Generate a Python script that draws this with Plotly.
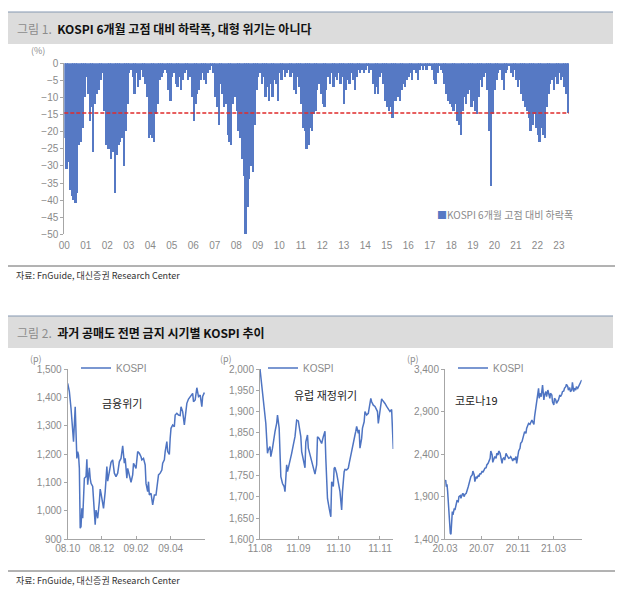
import plotly.graph_objects as go

# 그림 1. KOSPI 6개월 고점 대비 하락폭 (%) - monthly readings, one row per axis year
drawdown = [
    -22, -31, -29, -37, -39, -40, -41, -38, -24, -23, -19, -10,   # 00
    -4, -9, -17, -13, -26, -12, -9, -8, -5, -3, -14, -24,         # 01
    -25, -25, -28, -26, -38, -27, -24, -23, -22, -30, -20, -12,   # 02
    -3, -2, -4, -9, -3, -7, -5, -2, -4, -6, -10, -22,             # 03
    -21, -22, -23, -15, -12, -5, -4, -3, -2, -3, -8, -11,         # 04
    -4, -3, -6, -7, -4, -8, -5, -3, -2, -5, -4, -10,              # 05
    -17, -12, -9, -8, -5, -3, -5, -6, -3, -2, -1, -3,             # 06
    -10, -13, -18, -6, -9, -13, -12, -21, -23, -24, -12, -10,     # 07
    -14, -20, -22, -28, -33, -50, -42, -34, -30, -32, -18, -8,    # 08
    -4, -3, -6, -4, -10, -7, -11, -6, -10, -5, -6, -11,           # 09
    -3, -5, -2, -4, -3, -2, -4, -3, -8, -9, -4, -7,               # 10
    -12, -19, -20, -25, -24, -19, -20, -15, -14, -8, -6, -9,      # 11
    -12, -13, -8, -4, -6, -3, -7, -4, -5, -3, -6, -4,             # 12
    -12, -8, -5, -6, -3, -5, -8, -4, -2, -3, -2, -3,              # 13
    -2, -1, -3, -2, -6, -9, -7, -9, -4, -3, -6, -11,              # 14
    -13, -14, -13, -16, -11, -11, -10, -11, -8, -6, -7, -5,       # 15
    -4, -3, -5, -2, -3, -5, -2, -1, -2, -1, -2, -1,               # 16
    -1, -2, -5, -6, -3, -1, -2, -3, -6, -9, -11, -12,             # 17
    -13, -14, -12, -17, -18, -21, -14, -10, -12, -9, -8, -13,     # 18
    -11, -14, -15, -10, -5, -7, -4, -3, -8, -20, -36, -15,        # 19
    -8, -5, -3, -2, -5, -8, -3, -2, -1, -3, -4, -2,               # 20
    -5, -7, -5, -9, -11, -13, -14, -16, -20, -18, -15, -19,       # 21
    -21, -23, -19, -21, -22, -13, -9, -6, -5, -8, -4, -6,         # 22
    -3, -5, -4, -7, -9, -14.5,                                    # 23
]
year_labels = ["%02d" % y for y in range(24)]
threshold = -14.5

# 그림 2. KOSPI during past short-selling bans (x = trading-day position)
a_t = [0, 2, 4, 6, 7, 9, 10, 11, 12, 13, 14, 15, 16, 17, 18, 19, 20, 22, 23, 24,
       26, 27, 28, 30, 31, 33, 34, 36, 38, 39, 40, 42, 43, 45, 46, 47, 48, 50, 52, 54,
       56, 58, 60, 62, 64, 66, 68, 69, 71, 72, 74, 76, 78, 79, 81, 82, 84, 86, 88, 89,
       91, 93, 94, 96, 97, 98, 100, 101, 102, 104, 106, 107, 109, 111, 113, 114, 116, 117, 119, 120,
       122, 123, 124, 126, 128, 129, 131, 133, 135, 136, 138, 140, 142, 143, 145, 148, 150, 151, 153, 155,
       157, 159, 161, 162, 164]
a_kospi = [1449, 1420, 1361, 1297, 1244, 1367, 1268, 1185, 1209, 1197, 1150, 939, 945, 1009, 974, 1092, 1115, 1121, 1182, 1092,
           1152, 1115, 1097, 1086, 1033, 951, 1003, 974, 1033, 1077, 1062, 1033, 1009, 1068, 1103, 1156, 1105, 1144, 1171, 1180,
           1133, 1121, 1133, 1174, 1185, 1229, 1168, 1185, 1115, 1150, 1127, 1101, 1127, 1168, 1156, 1150, 1209, 1203, 1191, 1180,
           1185, 1162, 1097, 1068, 1103, 1056, 1062, 1044, 1021, 1056, 1056, 1080, 1127, 1133, 1144, 1168, 1180, 1209, 1244, 1209,
           1199, 1256, 1291, 1303, 1297, 1338, 1344, 1338, 1336, 1367, 1350, 1303, 1361, 1379, 1394, 1408, 1414, 1385, 1391, 1434,
           1403, 1408, 1367, 1403, 1417]
a_ticks = [0, 40.8, 82, 123.6]
a_ticktext = ["08.10", "08.12", "09.02", "09.04"]

b_t = [0, 3, 5, 7, 9, 10, 12, 13, 15, 16, 18, 20, 21, 23, 25, 27, 29, 30, 32, 33,
       34, 36, 38, 40, 42, 44, 46, 47, 49, 50, 52, 54, 55, 57, 58, 60, 62, 64, 66, 68,
       69, 71, 72, 74, 76, 78, 79, 81, 83, 85, 86, 88, 89, 90, 92, 94, 96, 98, 99, 101,
       102, 104, 106, 107, 109, 110, 112, 114, 115, 116, 118, 119, 120, 122, 123, 125, 126, 128, 130, 131,
       133, 134, 136, 138, 139, 141, 142, 144, 146, 147, 149, 150, 152, 154, 156, 158, 160]
b_kospi = [2000, 1943, 1912, 1872, 1802, 1810, 1818, 1794, 1814, 1829, 1853, 1872, 1892, 1861, 1747, 1731, 1724, 1712, 1775, 1759,
           1767, 1782, 1802, 1822, 1841, 1880, 1878, 1865, 1841, 1806, 1786, 1768, 1829, 1845, 1814, 1798, 1782, 1768, 1753, 1775,
           1841, 1837, 1833, 1825, 1841, 1854, 1790, 1696, 1673, 1653, 1735, 1724, 1767, 1769, 1755, 1735, 1712, 1669, 1712, 1759,
           1764, 1763, 1767, 1778, 1798, 1814, 1829, 1845, 1854, 1865, 1849, 1857, 1814, 1837, 1861, 1876, 1900, 1892, 1896, 1912,
           1931, 1923, 1915, 1912, 1908, 1900, 1872, 1908, 1930, 1927, 1923, 1919, 1912, 1905, 1900, 1905, 1812]
b_ticks = [0, 46, 94, 144]
b_ticktext = ["11.08", "11.09", "11.10", "11.11"]

c_t = [0, 1, 2, 3, 4, 5, 7, 8, 9, 10, 11, 12, 14, 15, 17, 18, 20, 21, 23, 24,
       26, 27, 29, 30, 32, 33, 35, 36, 38, 39, 41, 42, 44, 45, 47, 48, 50, 51, 53, 54,
       56, 57, 59, 60, 62, 63, 65, 66, 68, 69, 71, 72, 74, 75, 77, 78, 80, 81, 83, 84,
       86, 87, 89, 90, 92, 93, 95, 96, 98, 99, 101, 102, 104, 105, 107, 108, 110, 111, 113, 114,
       116, 117, 119, 120, 122, 123, 125, 126, 128, 129, 131, 132, 134, 135, 137, 138, 140, 141, 142, 143,
       145, 146, 147, 149, 150, 152, 153, 155, 156, 158, 159, 161, 162, 164, 165, 167, 168, 170, 171, 173,
       174, 176, 177, 179, 180, 182, 183, 185, 186, 188, 189, 191, 192, 194, 195, 197, 198, 200, 201, 203,
       204, 206]
c_kospi = [2077, 2097, 2018, 2046, 1960, 1803, 1647, 1470, 1459, 1647, 1725, 1686, 1764, 1744, 1823, 1850, 1842, 1901, 1913, 1881,
           1928, 1940, 1901, 1928, 1940, 1960, 2018, 2046, 2097, 2136, 2155, 2202, 2155, 2077, 2136, 2116, 2147, 2136, 2175, 2163,
           2202, 2187, 2214, 2234, 2241, 2273, 2292, 2320, 2351, 2437, 2390, 2304, 2351, 2371, 2351, 2410, 2390, 2437, 2410, 2351,
           2292, 2343, 2359, 2331, 2410, 2390, 2371, 2351, 2359, 2371, 2343, 2320, 2351, 2331, 2371, 2292, 2390, 2437, 2468, 2527,
           2547, 2586, 2625, 2664, 2645, 2703, 2742, 2762, 2750, 2762, 2801, 2781, 2750, 2840, 2938, 2997, 3095, 3173, 3056, 3114,
           3075, 3173, 3212, 3036, 3095, 3134, 3075, 3153, 3114, 3056, 3114, 3095, 3016, 2977, 3056, 3036, 2997, 3016, 3036, 3095,
           3075, 3103, 3134, 3142, 3173, 3193, 3220, 3193, 3153, 3181, 3134, 3153, 3243, 3134, 3173, 3153, 3193, 3173, 3193, 3212,
           3232, 3271]
c_ticks = [0, 55, 110, 163.5]
c_ticktext = ["20.03", "20.07", "20.11", "21.03"]

W, H = 622, 596
BAR = "#5679C4"
LINE = "#4E74C2"
GREY = "#8a8a8a"
AXIS = "#a6a6a6"
KR = "Noto Sans CJK KR"
NUM = "Liberation Sans"


def px(x):
    return x / W


def py(y):
    return 1 - y / H


fig = go.Figure()

fig.add_trace(go.Bar(
    x=[i / 12 for i in range(len(drawdown))], y=drawdown,
    width=1 / 12, offset=0,
    marker=dict(color=BAR, line=dict(width=0)),
    name="KOSPI 6개월 고점 대비 하락폭", showlegend=False,
    xaxis="x", yaxis="y",
))
fig.add_hline(y=threshold, line=dict(color="#E02B2B", width=1.5, dash="4px,2px"))

fig.add_trace(go.Scatter(x=a_t, y=a_kospi, mode="lines", name="KOSPI",
                         line=dict(color=LINE, width=1.5), xaxis="x2", yaxis="y2", legend="legend"))
fig.add_trace(go.Scatter(x=b_t, y=b_kospi, mode="lines", name="KOSPI",
                         line=dict(color=LINE, width=1.5), xaxis="x3", yaxis="y3", legend="legend2"))
fig.add_trace(go.Scatter(x=c_t, y=c_kospi, mode="lines", name="KOSPI",
                         line=dict(color=LINE, width=1.5), xaxis="x4", yaxis="y4", legend="legend3"))

tickfont = dict(family=NUM, size=10, color=GREY)
base_x = dict(showgrid=False, zeroline=False, tickfont=tickfont, fixedrange=True, automargin=False)
base_y = dict(showgrid=False, zeroline=False, tickfont=tickfont, showline=True, linecolor=AXIS,
              linewidth=1, ticks="outside", ticklen=3, tickcolor=AXIS, fixedrange=True, automargin=False)

bottom_y = [py(539.3), py(369)]

fig.update_layout(
    template="none",
    width=W, height=H,
    margin=dict(l=0, r=0, t=0, b=0, pad=0),
    paper_bgcolor="white", plot_bgcolor="white",
    bargap=0,
    font=dict(family=KR, color=GREY),
    xaxis=dict(base_x, domain=[px(64.3), px(569)], range=[0, 23.47], anchor="y",
               tickvals=list(range(24)), ticktext=year_labels, ticks="", showline=False,
               ticklabelstandoff=4),
    xaxis5=dict(base_x, overlaying="x", side="top", anchor="y", range=[0, 23.47],
                tickvals=list(range(24)), showticklabels=False, ticks="outside", ticklen=3,
                tickcolor=AXIS, showline=True, linecolor=AXIS),
    yaxis=dict(base_y, domain=[py(234.3), py(63.3)], range=[-50, 0], dtick=5, anchor="x"),
    xaxis2=dict(base_x, domain=[px(67.7), px(205)], range=[0, 164.8], anchor="y2",
                tickvals=a_ticks, ticktext=a_ticktext, showline=True, linecolor=AXIS,
                ticks="inside", ticklen=3, tickcolor=AXIS),
    yaxis2=dict(base_y, domain=bottom_y, range=[900, 1500], tick0=900, dtick=100,
                tickformat=",d", anchor="x2"),
    xaxis3=dict(base_x, domain=[px(260), px(393.3)], range=[0, 160], anchor="y3",
                tickvals=b_ticks, ticktext=b_ticktext, showline=True, linecolor=AXIS,
                ticks="inside", ticklen=3, tickcolor=AXIS),
    yaxis3=dict(base_y, domain=bottom_y, range=[1600, 2000], tick0=1600, dtick=50,
                tickformat=",d", anchor="x3"),
    xaxis4=dict(base_x, domain=[px(445), px(581.7)], range=[0, 206], anchor="y4",
                tickvals=c_ticks, ticktext=c_ticktext, showline=True, linecolor=AXIS,
                ticks="inside", ticklen=3, tickcolor=AXIS),
    yaxis4=dict(base_y, domain=bottom_y, range=[1400, 3400], tick0=1400, dtick=500,
                tickformat=",d", anchor="x4"),
)

leg = dict(xanchor="left", yanchor="middle", y=py(368), bgcolor="rgba(0,0,0,0)",
           font=dict(family=NUM, size=10, color=GREY), itemwidth=30)
fig.update_layout(legend=dict(leg, x=px(76)), legend2=dict(leg, x=px(263)), legend3=dict(leg, x=px(453)))

# header bands and separator lines
shapes = []
for top, bottom in [(12, 44), (316, 348)]:
    shapes.append(dict(type="rect", xref="paper", yref="paper", x0=px(8), x1=px(613),
                       y0=py(bottom), y1=py(top), fillcolor="#dcdcdc", line=dict(width=0), layer="below"))
    shapes.append(dict(type="line", xref="paper", yref="paper", x0=px(8), x1=px(613),
                       y0=py(top), y1=py(top), line=dict(color="#8497B0", width=1)))
for y in [266, 571]:
    shapes.append(dict(type="line", xref="paper", yref="paper", x0=px(8), x1=px(615),
                       y0=py(y), y1=py(y), line=dict(color="#666666", width=1)))
fig.update_layout(shapes=list(fig.layout.shapes) + shapes)

notes = [
    ("<span style='color:#8c8c8c'>그림 1.</span>  <b>KOSPI 6개월 고점 대비 하락폭, 대형 위기는 아니다</b>", 15, 28, 12, "#111111", "left"),
    ("<span style='color:#8c8c8c'>그림 2.</span>  <b>과거 공매도 전면 금지 시기별 KOSPI 추이</b>", 15, 332, 12, "#111111", "left"),
    ("자료: FnGuide, 대신증권 Research Center", 14, 275, 9, "#333333", "left"),
    ("자료: FnGuide, 대신증권 Research Center", 14, 580, 9, "#333333", "left"),
    ("(%)", 38, 51, 9, GREY, "center"),
    ("(p)", 36, 358, 9, GREY, "center"),
    ("(p)", 226, 358, 9, GREY, "center"),
    ("(p)", 413, 358, 9, GREY, "center"),
    ("금융위기", 121.7, 403, 11, "#222222", "center"),
    ("유럽 재정위기", 325, 395, 11, "#222222", "center"),
    ("코로나19", 476.7, 400, 11, "#222222", "center"),
    ("<span style='color:%s'>■</span>KOSPI 6개월 고점 대비 하락폭" % BAR, 435, 214, 10, GREY, "left"),
]
for text, x, y, size, color, anchor in notes:
    fig.add_annotation(text=text, x=px(x), y=py(y), xref="paper", yref="paper",
                       xanchor=anchor, yanchor="middle", showarrow=False,
                       font=dict(family=KR, size=size, color=color))

fig.write_html("out.html", config={"displayModeBar": False},
               post_script="document.body.style.margin='0';")
